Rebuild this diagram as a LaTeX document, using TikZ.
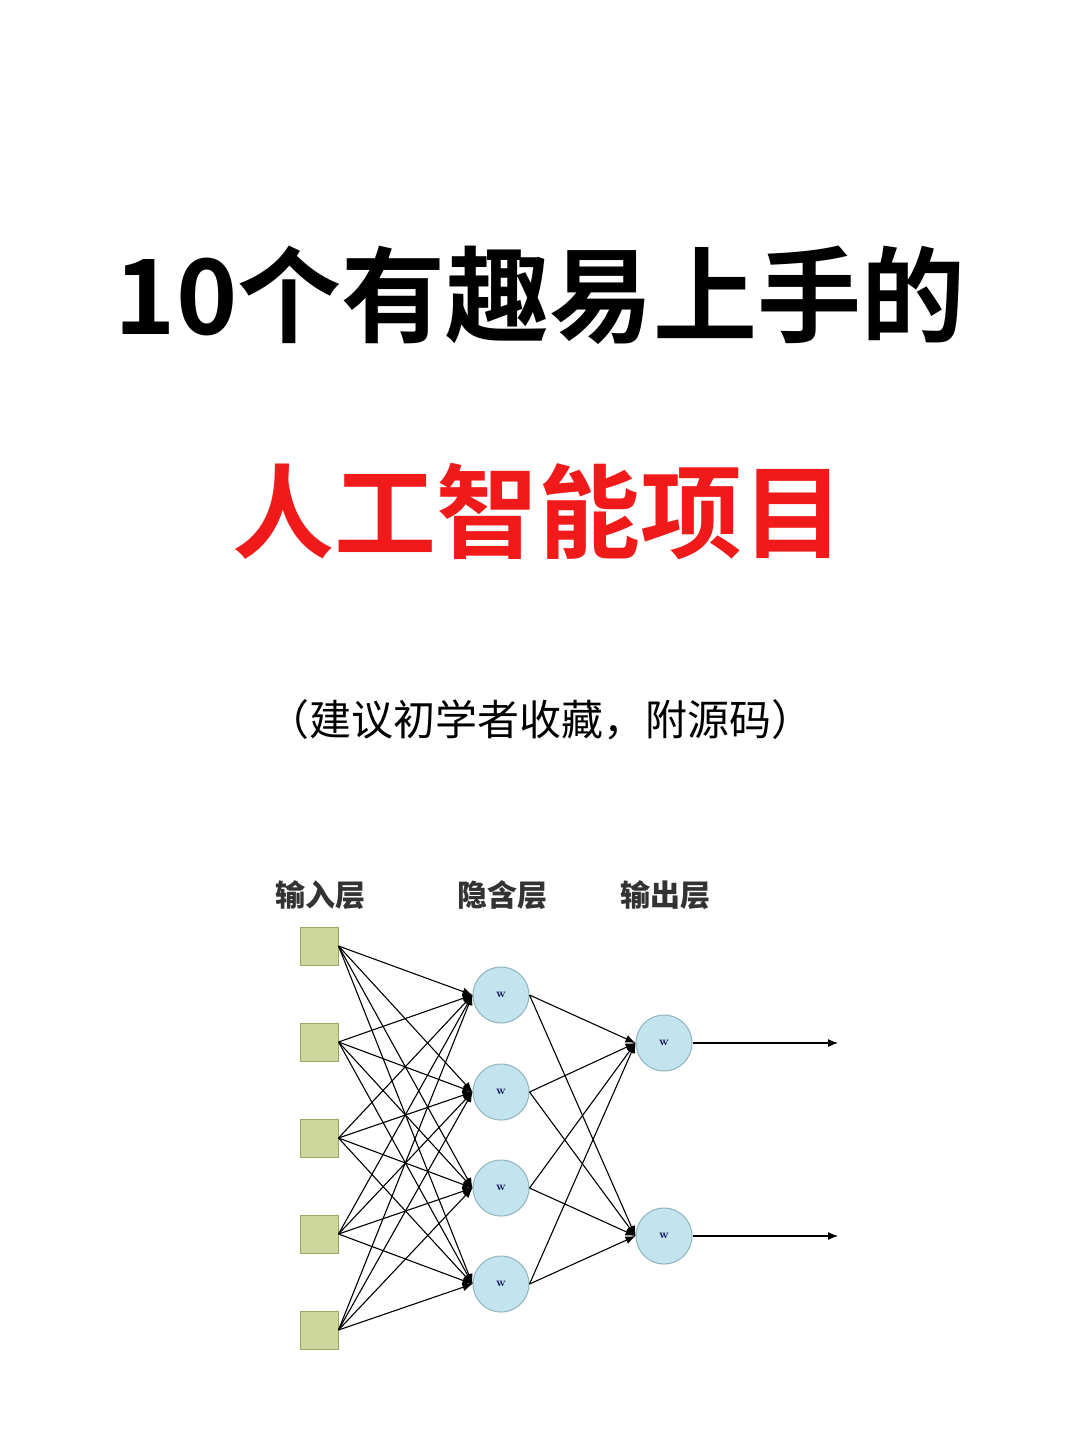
\documentclass[tikz,border=0pt]{standalone}
\usepackage{fontspec}
\newfontfamily\cjk{Noto Sans CJK SC}
\newfontfamily\cjkb{Noto Sans CJK SC Bold}
\usetikzlibrary{arrows.meta}
\definecolor{sq}{HTML}{CDD69B}
\definecolor{sqd}{HTML}{9EA468}
\definecolor{cf}{HTML}{C3E4EE}
\definecolor{cd}{HTML}{8FB4C0}
\definecolor{tred}{HTML}{F01A1A}
\begin{document}
\begin{tikzpicture}[x=1pt,y=-1pt,
  inbox/.style={draw=sqd,fill=sq,minimum size=38pt,inner sep=0pt,line width=1pt},
  neuron/.style={circle,draw=cd,fill=cf,minimum size=56pt,inner sep=0pt,line width=1pt,font=\fontsize{12}{12}\selectfont\bfseries,text=black!70!blue},
  conn/.style={line width=1.1pt,-{Latex[length=10pt,width=8pt]}},
  lab/.style={font=\cjk\bfseries\fontsize{30}{30}\selectfont,text=black!80}]
\useasboundingbox (0,0) rectangle (1080,1443);
\fill[white] (0,0) rectangle (1080,1443);
\node (t1) at (540,295) {\cjkb\fontsize{104}{104}\selectfont 10个有趣易上手的};
\node[text=tred] (t2) at (538,512) {\cjkb\fontsize{102}{102}\selectfont 人工智能项目};
\node (t3) at (540,720) {\cjk\fontsize{42}{42}\selectfont （建议初学者收藏，附源码）};
\node[lab] (l1) at (320,895) {输入层};
\node[lab] (l2) at (502,895) {隐含层};
\node[lab] (l3) at (665,895) {输出层};
\foreach \i/\y in {1/946,2/1042,3/1138,4/1234,5/1330}
  \node[inbox] (i\i) at (319,\y) {};
\foreach \i/\y in {1/995,2/1092,3/1188,4/1284}
  \node[neuron] (h\i) at (501,\y) {w};
\foreach \i/\y in {1/1043,2/1236}
  \node[neuron] (o\i) at (664,\y) {w};
\foreach \a in {1,...,5}
  \foreach \b in {1,...,4}
    \draw[conn] (i\a.east) -- (h\b.west);
\foreach \a in {1,...,4}
  \foreach \b in {1,2}
    \draw[conn] (h\a.east) -- (o\b.west);
\coordinate (e1) at (838,1043);
\coordinate (e2) at (838,1236);
\draw[conn] (o1.east) -- (e1);
\draw[conn] (o2.east) -- (e2);
\end{tikzpicture}
\end{document}
